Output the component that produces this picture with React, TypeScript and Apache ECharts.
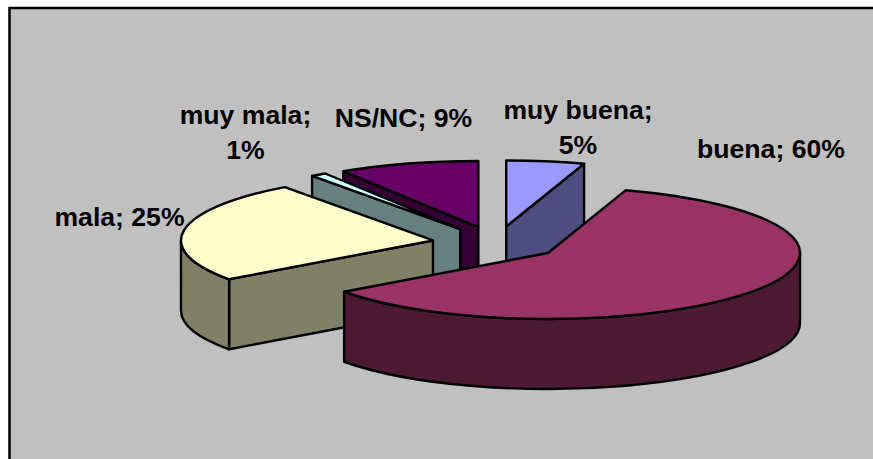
import React, { useEffect, useRef } from "react";
import * as echarts from "echarts";

const categories = ["muy buena", "buena", "mala", "muy mala", "NS/NC"];
const shares = [5, 60, 25, 1, 9];
const topColors = ["#9999FF", "#993366", "#FFFFCC", "#CCFFFF", "#660066"];
const sideColors = ["#4D4D80", "#4D1A33", "#808066", "#668080", "#330033"];
const paintOrder = [0, 4, 3, 2, 1];
const labelLines = [
  ["muy buena;", "5%"],
  ["buena; 60%"],
  ["mala; 25%"],
  ["muy mala;", "1%"],
  ["NS/NC; 9%"],
];
const labelAnchors = [
  [578, 109.5],
  [771, 148.5],
  [119.5, 216.5],
  [245.5, 114.5],
  [403.5, 118],
];

const CX = 496.2;
const CY = 243.1;
const RX = 252;
const RY = 66;
const DEPTH = 70;
const EXPLODE = 0.254;
const LINE_H = 35;
const FONT_SIZE = 26.6;

const rad = (d: number) => (d * Math.PI) / 180;

function renderSlice(params: any, api: any) {
  const i = params.dataIndex;
  let before = 0;
  for (let k = 0; k < i; k++) before += shares[k];
  const total = shares.reduce((a, b) => a + b, 0);
  const a0 = (before / total) * 360;
  const a1 = ((before + api.value(0)) / total) * 360;
  const mid = rad((a0 + a1) / 2);
  const cx = CX + EXPLODE * RX * Math.sin(mid);
  const cy = CY - EXPLODE * RY * Math.cos(mid);
  const px = (a: number, dy = 0) =>
    `${(cx + RX * Math.sin(rad(a))).toFixed(2)} ${(cy - RY * Math.cos(rad(a)) + dy).toFixed(2)}`;
  const arc = (from: number, to: number, dy: number) => {
    const large = Math.abs(to - from) > 180 ? 1 : 0;
    const sweep = to > from ? 1 : 0;
    return `A ${RX} ${RY} 0 ${large} ${sweep} ${px(to, dy)}`;
  };
  const order = paintOrder.indexOf(i) * 10;
  const line = { stroke: "#000", lineWidth: 2.4, lineJoin: "round" };
  const children: any[] = [];
  const addPath = (d: string, fill: string, z: number) =>
    children.push({
      type: "path",
      z2: order + z,
      shape: { pathData: d },
      style: { fill, ...line },
    });

  const radial = (a: number) =>
    `M ${cx} ${cy} L ${px(a)} L ${px(a, DEPTH)} L ${cx} ${cy + DEPTH} Z`;
  if (Math.sin(rad(a0)) < -1e-6) addPath(radial(a0), sideColors[i], 1);
  if (Math.sin(rad(a1)) > 1e-6) addPath(radial(a1), sideColors[i], 1);
  const s0 = Math.max(a0, 90);
  const s1 = Math.min(a1, 270);
  if (s1 > s0) {
    addPath(
      `M ${px(s0)} ${arc(s0, s1, 0)} L ${px(s1, DEPTH)} ${arc(s1, s0, DEPTH)} Z`,
      sideColors[i],
      2
    );
  }
  addPath(`M ${cx} ${cy} L ${px(a0)} ${arc(a0, a1, 0)} Z`, topColors[i], 3);

  labelLines[i].forEach((t, n) => {
    children.push({
      type: "text",
      z2: 100,
      style: {
        text: t,
        x: labelAnchors[i][0],
        y: labelAnchors[i][1] + n * LINE_H,
        fill: "#000",
        fontFamily: "Liberation Sans, Arial, sans-serif",
        fontWeight: "bold",
        fontSize: FONT_SIZE,
        textAlign: "center",
        textVerticalAlign: "middle",
      },
    });
  });
  return { type: "group", children };
}

export default function App() {
  const ref = useRef<HTMLDivElement>(null);
  useEffect(() => {
    const chart = echarts.init(ref.current!, undefined, { renderer: "svg" });
    chart.setOption({
      animation: false,
      backgroundColor: "#fff",
      graphic: [
        {
          type: "rect",
          z: -10,
          silent: true,
          shape: { x: 9.5, y: 8, width: 900, height: 500 },
          style: { fill: "#C0C0C0", stroke: "#000", lineWidth: 2.5 },
        },
      ],
      series: [
        {
          type: "custom",
          name: "Valoración",
          coordinateSystem: "none",
          silent: true,
          z: 5,
          data: shares.map((v, i) => ({ name: categories[i], value: [v] })),
          renderItem: renderSlice,
        },
      ],
    });
    return () => chart.dispose();
  }, []);
  return (
    <div
      ref={ref}
      style={{ position: "fixed", left: 0, top: 0, width: 873, height: 459 }}
    />
  );
}
